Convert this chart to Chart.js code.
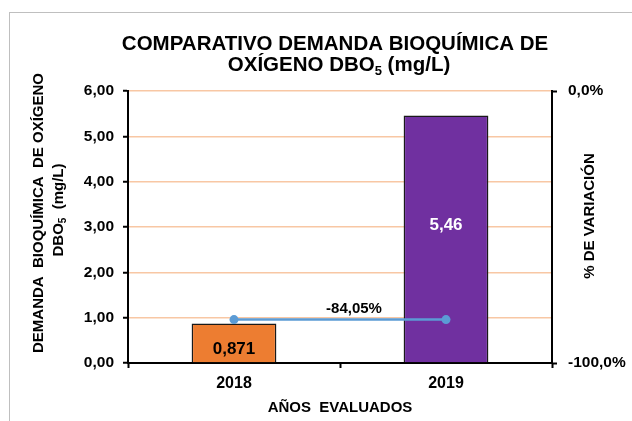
<!DOCTYPE html>
<html>
<head>
<meta charset="utf-8">
<script src="https://cdn.jsdelivr.net/npm/chart.js@4.4.1/dist/chart.umd.min.js"></script>
<style>
  html, body { margin: 0; padding: 0; background: #fff; }
  #wrap { width: 632px; height: 421px; position: relative; }
</style>
</head>
<body>
<div id="wrap"><canvas id="dboChart" width="632" height="421"></canvas></div>
<script>
// data
var years = ['2018', '2019'];
var dboValues = [0.871, 5.46];
var variation = [-84.05, -84.05];
var barColors = ['#ED7D31', '#7030A0'];
var valueLabels = ['0,871', '5,46'];
var variationLabel = '-84,05%';

var FONT = '"Liberation Sans", Arial, sans-serif';

// draws a line of text with subscript parts, centred on (cx, cy)
function drawRich(ctx, parts, size, cx, cy, angle) {
	ctx.save();
	ctx.translate(cx, cy);
	ctx.rotate(angle || 0);
	ctx.textBaseline = 'alphabetic';
	ctx.textAlign = 'left';
	var total = 0;
	parts.forEach(function(p) {
		ctx.font = 'bold ' + (p.sub ? Math.round(size * 0.65) : size) + 'px ' + FONT;
		p.w = ctx.measureText(p.t).width;
		total += p.w;
	});
	var x = -total / 2;
	var base = size * 0.36;
	parts.forEach(function(p) {
		ctx.font = 'bold ' + (p.sub ? Math.round(size * 0.65) : size) + 'px ' + FONT;
		ctx.fillStyle = '#000';
		ctx.fillText(p.t, x, p.sub ? base + size * 0.2 : base);
		x += p.w;
	});
	ctx.restore();
}

var decorPlugin = {
	id: 'decor',
	beforeDraw: function(chart) {
		var ctx = chart.ctx;
		ctx.save();
		ctx.fillStyle = '#fff';
		ctx.fillRect(0, 0, chart.width, chart.height);
		ctx.strokeStyle = '#BFBFBF';
		ctx.lineWidth = 1;
		ctx.strokeRect(9.5, 12.5, 700, 500);
		ctx.restore();
	},
	afterDraw: function(chart) {
		var ctx = chart.ctx;
		// title
		drawRich(ctx, [{t: 'COMPARATIVO DEMANDA BIOQUÍMICA DE'}], 20.5, 335, 43);
		drawRich(ctx, [{t: 'OXÍGENO DBO'}, {t: '5', sub: true}, {t: ' (mg/L)'}], 20.5, 339, 64);
		// axis titles
		drawRich(ctx, [{t: 'DEMANDA  BIOQUÍMICA  DE OXÍGENO'}], 15, 38, 213, -Math.PI / 2);
		drawRich(ctx, [{t: 'DBO'}, {t: '5', sub: true}, {t: '  (mg/L)'}], 15, 58, 210, -Math.PI / 2);
		drawRich(ctx, [{t: '% DE VARIACIÓN'}], 15, 589, 216, -Math.PI / 2);
		drawRich(ctx, [{t: 'AÑOS  EVALUADOS'}], 15, 340, 407);

		// value labels
		var bars = chart.getDatasetMeta(1).data;
		ctx.save();
		ctx.textAlign = 'center';
		ctx.textBaseline = 'middle';
		ctx.font = 'bold 17px ' + FONT;
		ctx.fillStyle = '#000';
		ctx.fillText(valueLabels[0], bars[0].x, bars[0].base - 13);
		ctx.fillStyle = '#fff';
		ctx.fillText(valueLabels[1], bars[1].x, bars[1].y + (bars[1].base - bars[1].y) * 0.445);
		var pts = chart.getDatasetMeta(0).data;
		ctx.font = 'bold 15px ' + FONT;
		ctx.fillStyle = '#000';
		ctx.fillText(variationLabel, (pts[0].x + pts[1].x) / 2 + 14, pts[0].y - 11);
		ctx.restore();
	}
};

var ctx = document.getElementById('dboChart');

var data = {
	labels: years,
	datasets: [
		{
			type: 'line',
			label: '% de variación',
			data: variation,
			yAxisID: 'y2',
			borderColor: '#5B9BD5',
			backgroundColor: '#5B9BD5',
			borderWidth: 2.5,
			pointRadius: 4.5,
			pointBackgroundColor: '#5B9BD5',
			pointBorderWidth: 0,
			fill: false,
			order: 0
		},
		{
			type: 'bar',
			label: 'DBO5',
			data: dboValues,
			yAxisID: 'y',
			backgroundColor: barColors,
			borderColor: '#1a1a1a',
			borderWidth: 1.5,
			barPercentage: 0.4,
			categoryPercentage: 1,
			order: 1
		}
	]
};

var options = {
	responsive: false,
	animation: false,
	layout: { padding: { top: 91, left: 0, right: 0, bottom: 0 } },
	plugins: {
		legend: { display: false },
		title: { display: false },
		tooltip: { enabled: false }
	},
	scales: {
		x: {
			offset: true,
			afterFit: function(s) { s.height = 58; },
			grid: { drawOnChartArea: false, offset: true, tickLength: 5, tickColor: '#000', tickWidth: 2 },
			border: { color: '#000', width: 2 },
			ticks: { color: '#000', padding: 6, font: { family: FONT, size: 16, weight: 'bold' } }
		},
		y: {
			position: 'left',
			min: 0,
			max: 6,
			afterFit: function(s) { s.width = 128; },
			grid: {
				color: function(c) { return c.tick && c.tick.value === 0 ? '#000' : '#F8C7A4'; },
				lineWidth: 1.5,
				tickLength: 5,
				tickColor: '#000',
				tickWidth: 2
			},
			border: { color: '#000', width: 2 },
			ticks: {
				stepSize: 1,
				color: '#000',
				padding: 9,
				font: { family: FONT, size: 15.5, weight: 'bold' },
				callback: function(v) { return v.toFixed(2).replace('.', ','); }
			}
		},
		y2: {
			position: 'right',
			min: -100,
			max: 0,
			afterFit: function(s) { s.width = 80; },
			grid: { drawOnChartArea: false, tickLength: 5, tickColor: '#000', tickWidth: 2 },
			border: { color: '#000', width: 2 },
			ticks: {
				stepSize: 100,
				color: '#000',
				padding: 11,
				font: { family: FONT, size: 15.5, weight: 'bold' },
				callback: function(v) { return v.toFixed(1).replace('.', ',') + '%'; }
			}
		}
	}
};

var chart = new Chart(ctx, {
	type: 'bar',
	data: data,
	options: options,
	plugins: [decorPlugin]
});
</script>
</body>
</html>
